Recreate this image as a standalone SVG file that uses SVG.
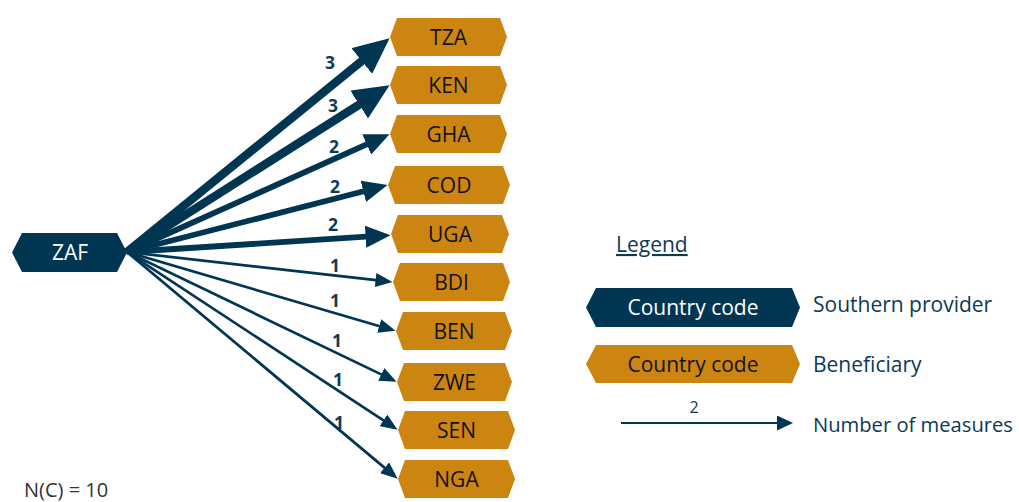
<svg xmlns="http://www.w3.org/2000/svg" width="1019" height="502" viewBox="0 0 1019 502">
<style>
.prov{fill:#003652;}
.ben{fill:#cd8512;}
.ntxt{font-family:"Open Sans","Noto Sans",sans-serif;font-size:21px;text-anchor:middle;fill:#111;}
.ptxt{font-family:"Open Sans","Noto Sans",sans-serif;font-size:21px;text-anchor:middle;fill:#fff;}
.lbl{font-family:"Open Sans","Noto Sans",sans-serif;font-size:17.5px;font-weight:bold;text-anchor:middle;fill:#0d3a55;}
.leg{font-family:"Open Sans","Noto Sans",sans-serif;font-size:21px;fill:#0d3a55;}
.e3{stroke:#003652;stroke-width:8.5;fill:none;marker-end:url(#m3);}
.e2{stroke:#003652;stroke-width:5.8;fill:none;marker-end:url(#m2);}
.e1{stroke:#003652;stroke-width:2.7;fill:none;marker-end:url(#m1);}
</style>
<defs>
<marker id="m3" viewBox="0 0 36 33" markerWidth="36" markerHeight="33" refX="0.5" refY="16.5" orient="auto" markerUnits="userSpaceOnUse"><path d="M0,0 L36,16.5 L0,33 z" fill="#003652"/></marker>
<marker id="m2" viewBox="0 0 25 22" markerWidth="25" markerHeight="22" refX="0.5" refY="11" orient="auto" markerUnits="userSpaceOnUse"><path d="M0,0 L25,11 L0,22 z" fill="#003652"/></marker>
<marker id="m1" viewBox="0 0 17 14" markerWidth="17" markerHeight="14" refX="0.5" refY="7" orient="auto" markerUnits="userSpaceOnUse"><path d="M0,0 L17,7 L0,14 z" fill="#003652"/></marker>
<marker id="ml" viewBox="0 0 16 15" markerWidth="16" markerHeight="15" refX="0.5" refY="7.5" orient="auto" markerUnits="userSpaceOnUse"><path d="M0,0 L16,7.5 L0,15 z" fill="#003652"/></marker>
</defs>
<rect width="1019" height="502" fill="#fff"/>

<g id="connectors">
<line class="e3" x1="127" y1="252" x2="362.1" y2="60.7"/>
<line class="e3" x1="127" y1="252" x2="359.6" y2="104.3"/>
<line class="e2" x1="127" y1="252" x2="367.2" y2="144.2"/>
<line class="e2" x1="127" y1="252" x2="363.8" y2="191.2"/>
<line class="e2" x1="127" y1="252" x2="366.1" y2="236.7"/>
<line class="e1" x1="127" y1="252" x2="376.1" y2="280.1"/>
<line class="e1" x1="127" y1="252" x2="379.7" y2="326.2"/>
<line class="e1" x1="127" y1="252" x2="381.7" y2="374.6"/>
<line class="e1" x1="127" y1="252" x2="383.8" y2="420.7"/>
<line class="e1" x1="127" y1="252" x2="385.0" y2="468.1"/>
<text class="lbl" x="330" y="69">3</text>
<text class="lbl" x="333" y="112">3</text>
<text class="lbl" x="334" y="153">2</text>
<text class="lbl" x="335" y="193">2</text>
<text class="lbl" x="333" y="231">2</text>
<text class="lbl" x="335" y="272">1</text>
<text class="lbl" x="335" y="307">1</text>
<text class="lbl" x="337" y="347">1</text>
<text class="lbl" x="338" y="386">1</text>
<text class="lbl" x="339" y="429">1</text>
</g>

<g id="node-ZAF">
<polygon class="prov" points="22,233 117,233 127,252.5 117,272 22,272 12,252.5"/>
<text class="ptxt" x="70" y="260">ZAF</text>
</g>
<g id="node-TZA">
<polygon class="ben" points="397,18 500,18 507,37 500,56 397,56 390,37"/>
<text class="ntxt" x="448.5" y="45">TZA</text>
</g>
<g id="node-KEN">
<polygon class="ben" points="397,66 500,66 507,85 500,104 397,104 390,85"/>
<text class="ntxt" x="448.5" y="93">KEN</text>
</g>
<g id="node-GHA">
<polygon class="ben" points="397,115 500,115 507,134 500,153 397,153 390,134"/>
<text class="ntxt" x="448.5" y="142">GHA</text>
</g>
<g id="node-COD">
<polygon class="ben" points="395,166 503,166 510,185 503,204 395,204 388,185"/>
<text class="ntxt" x="449" y="193">COD</text>
</g>
<g id="node-UGA">
<polygon class="ben" points="398,215 502,215 509,234 502,253 398,253 391,234"/>
<text class="ntxt" x="450" y="242">UGA</text>
</g>
<g id="node-BDI">
<polygon class="ben" points="400,263 503,263 510,282 503,301 400,301 393,282"/>
<text class="ntxt" x="451.5" y="290">BDI</text>
</g>
<g id="node-BEN">
<polygon class="ben" points="403,312 505,312 512,331 505,350 403,350 396,331"/>
<text class="ntxt" x="454" y="339">BEN</text>
</g>
<g id="node-ZWE">
<polygon class="ben" points="404,363 505,363 512,382 505,401 404,401 397,382"/>
<text class="ntxt" x="454.5" y="390">ZWE</text>
</g>
<g id="node-SEN">
<polygon class="ben" points="405,411 508,411 515,430 508,449 405,449 398,430"/>
<text class="ntxt" x="456.5" y="438">SEN</text>
</g>
<g id="node-NGA">
<polygon class="ben" points="405,460 508,460 515,479 508,498 405,498 398,479"/>
<text class="ntxt" x="456.5" y="487">NGA</text>
</g>

<g id="legend">
<text class="leg" x="616" y="252" text-decoration="underline">Legend</text>
<polygon class="prov" points="596,288 792,288 800,307.5 792,327 596,327 586,307.5"/>
<text class="ptxt" x="693" y="315">Country code</text>
<text class="leg" x="813" y="312">Southern provider</text>
<polygon class="ben" points="596,345 792,345 800,364 792,383 596,383 586,364"/>
<text class="ntxt" x="693" y="372">Country code</text>
<text class="leg" x="813" y="372">Beneficiary</text>
<line x1="621" y1="423" x2="777.5" y2="423" stroke="#003652" stroke-width="2" marker-end="url(#ml)"/>
<text class="leg" x="694" y="413" text-anchor="middle" style="font-size:16px">2</text>
<text class="leg" x="813" y="432" style="font-size:20px" textLength="200" lengthAdjust="spacingAndGlyphs">Number of measures</text>
</g>

<text x="24" y="497" style="font-family:'Open Sans','Noto Sans',sans-serif;font-size:20px;fill:#333">N(C) = 10</text>
</svg>
